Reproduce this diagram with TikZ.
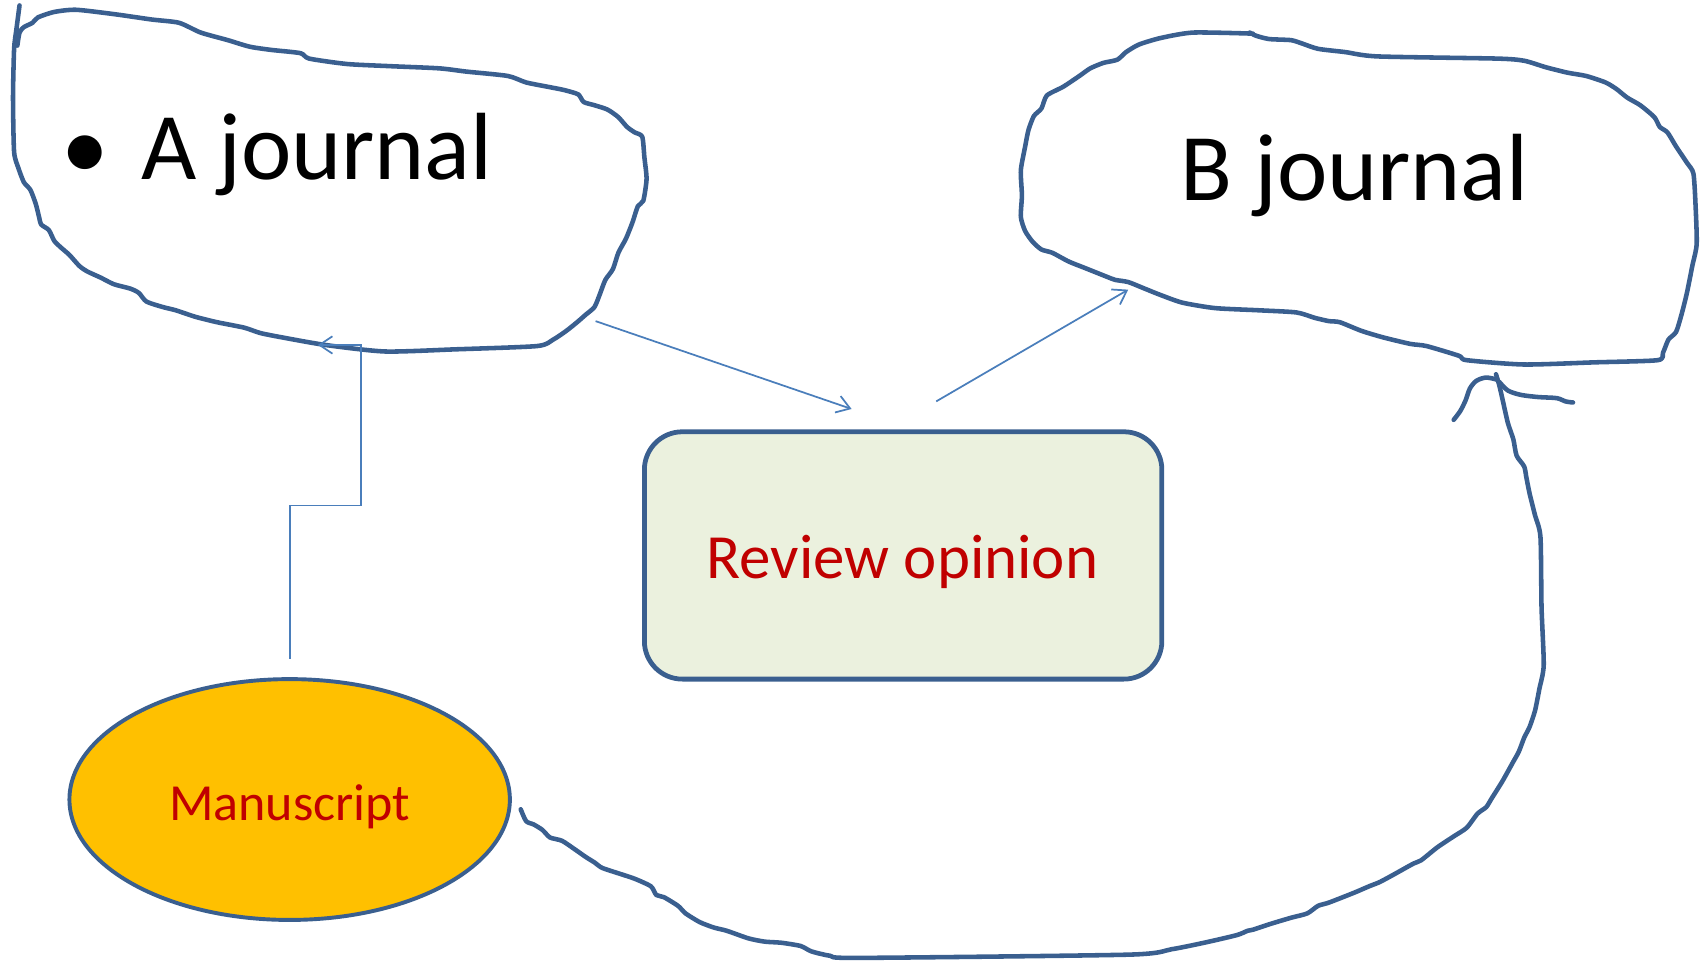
\documentclass[tikz,border=0pt]{standalone}
\usepackage{fontspec}
\setmainfont{Carlito}
\usetikzlibrary{arrows.meta,shapes.geometric}
\definecolor{blobblue}{HTML}{3A5F8F}
\definecolor{linkblue}{HTML}{4A7EBB}
\definecolor{boxfill}{HTML}{EBF1DE}
\definecolor{msfill}{HTML}{FFC000}
\definecolor{txtred}{HTML}{C00000}
\begin{document}
\begin{tikzpicture}[x=0.5pt,y=-0.5pt,
  freehand/.style={draw=blobblue, line width=2.1pt, line join=round, line cap=round},
  link/.style={draw=linkblue, line width=0.8pt, line join=miter, -{Straight Barb[length=6pt,width=8pt]}},
  bigtext/.style={font=\fontsize{44}{50}\selectfont, inner sep=0pt, text=black},
  redtext/.style={text=txtred, inner sep=0pt}]
\useasboundingbox (0,0) rectangle (1568,885);

% A journal blob
\draw[freehand] plot[smooth, tension=0.4] coordinates {
(18,5) (15,28) (13,45) (12,90) (13,140) (17,155) (22,168) (28,175) (33,188) (36,200)
(38,207) (45,212) (50,222) (56,228) (64,235) (73,245) (80,250) (93,256) (105,262)
(120,266) (128,270) (135,278) (150,283) (162,286) (180,292) (200,297) (225,302)
(240,307) (260,311) (300,318) (355,324) (420,322) (495,319) (510,313) (522,305)
(532,297) (540,290) (548,283) (553,271) (558,258) (565,248) (570,233) (577,220)
(583,205) (588,190) (593,185) (596,165) (594,145) (592,126) (585,122) (578,117)
(570,108) (560,101) (548,97) (538,94) (533,87) (520,83) (505,80) (485,76) (468,70)
(430,66) (405,63) (360,61) (320,59) (285,54) (277,49) (250,46) (230,43) (210,37)
(185,30) (165,21) (140,18) (105,13) (70,9) (50,11) (35,16) (30,21) (22,25) (18,30) (16,42)};
\node[bigtext, anchor=base west] (atext) at (130,165) {\llap{•\hspace{0.34em}}A journal};

% B journal blob
\draw[freehand] plot[smooth, tension=0.4] coordinates {
(1155,31) (1100,30) (1070,35) (1050,41) (1038,48) (1030,55) (1017,58) (1005,63)
(995,70) (980,80) (965,88) (960,100) (953,107) (948,120) (945,135) (941,157)
(942,180) (941,200) (945,213) (952,223) (960,230) (970,233) (985,241) (1000,247)
(1020,255) (1028,258) (1040,260) (1055,266) (1070,272) (1090,279) (1120,284)
(1160,286) (1195,288) (1212,293) (1225,296) (1235,297) (1255,305) (1275,311)
(1300,317) (1315,319) (1345,328) (1352,332) (1405,336) (1470,334) (1528,332)
(1533,325) (1538,313) (1545,306) (1550,290) (1555,270) (1560,245) (1564,225)
(1563,190) (1561,160) (1555,150) (1545,135) (1537,122) (1530,117) (1525,108)
(1512,97) (1500,90) (1490,82) (1480,76) (1462,70) (1445,67) (1425,62) (1405,56)
(1380,54) (1270,52) (1240,48) (1215,45) (1200,40) (1190,37) (1170,36) (1158,33) (1152,30)};
\node[bigtext, anchor=base west] (btext) at (1088,185) {B journal};

% Review opinion box
\node[draw=blobblue, line width=2.2pt, fill=boxfill, rounded corners=17.5pt,
  minimum width=238.5pt, minimum height=114pt, inner sep=0pt] (rev) at (832.5,512) {};
\node[redtext, font=\fontsize{29}{34}\selectfont, anchor=base] (revtext) at (832,533) {Review opinion};

% Manuscript ellipse
\node[ellipse, draw=blobblue, line width=1.8pt, fill=msfill,
  minimum width=203pt, minimum height=111pt, inner sep=0pt] (ms) at (267,737) {};
\node[redtext, font=\fontsize{24}{29}\selectfont, anchor=base] (mstext) at (267,756) {Manuscript};

% connectors
\coordinate (msout) at (267,607);
\coordinate (ain) at (293,318);
\coordinate (aout) at (549,296);
\coordinate (revin) at (785,377);
\coordinate (revout) at (863,370);
\coordinate (bin) at (1040,267);
\draw[link] (msout) -- (267,466) -- (333,466) -- (333,318) -- (ain);
\draw[link] (aout) -- (revin);
\draw[link] (revout) -- (bin);

% big freehand return arrow from manuscript to B journal
\coordinate (btip) at (1379,345);
\draw[freehand] plot[smooth, tension=0.4] coordinates {
(480,746) (485,757) (492,760) (500,765) (507,772) (518,775) (530,783) (540,790)
(548,795) (555,800) (570,805) (585,810) (600,817) (605,825) (612,827) (625,835)
(632,842) (645,850) (658,855) (670,858) (690,865) (705,868) (720,869) (738,872)
(748,877) (765,881) (790,883) (1040,880) (1080,875) (1110,869) (1140,862)
(1150,858) (1155,857) (1170,852) (1190,846) (1205,842) (1215,835) (1225,832)
(1248,823) (1262,817) (1272,813) (1285,806) (1303,796) (1310,793) (1325,781)
(1340,771) (1352,763) (1362,750) (1370,744) (1375,736) (1385,720) (1395,702)
(1400,693) (1405,680) (1410,670) (1415,655) (1419,635) (1423,613) (1421,560)
(1420,495) (1415,475) (1410,455) (1407,440) (1405,430) (1398,420) (1395,405)
(1390,390) (1385,368) (1382,355) (btip)};
\draw[freehand] plot[smooth, tension=0.5] coordinates {
(1340,387) (1346,379) (1351,369) (1355,358) (1361,351) (1370,348) (1380,350)};
\draw[freehand] plot[smooth, tension=0.5] coordinates {
(1382,352) (1390,360) (1402,364) (1418,366) (1435,367) (1443,370) (1450,371)};
\end{tikzpicture}
\end{document}
